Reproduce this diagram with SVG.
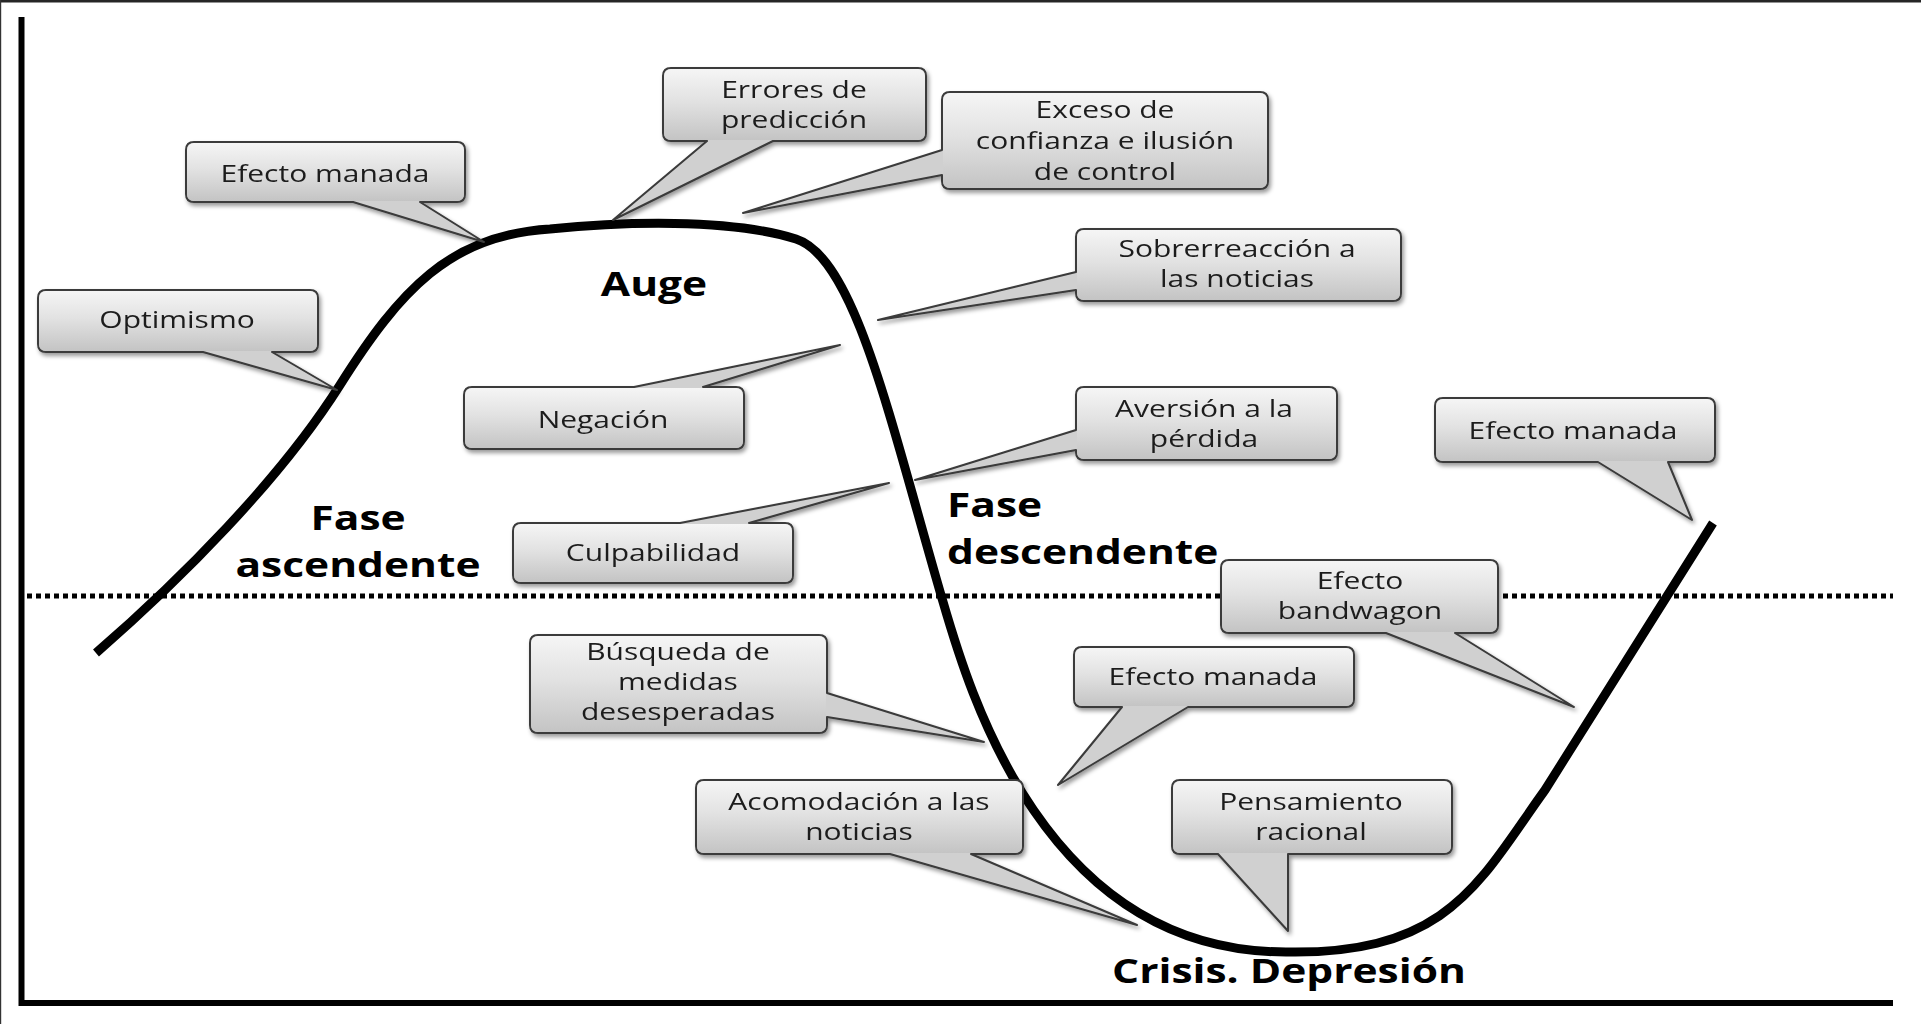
<svg xmlns="http://www.w3.org/2000/svg" width="1921" height="1024" viewBox="0 0 1921 1024">
  <defs>
    <linearGradient id="boxg" x1="0" y1="0" x2="0" y2="1">
      <stop offset="0" stop-color="#f5f5f5"/>
      <stop offset="0.45" stop-color="#e2e2e2"/>
      <stop offset="1" stop-color="#c4c4c4"/>
    </linearGradient>
    <filter id="shadow" x="-10%" y="-10%" width="130%" height="140%">
      <feDropShadow dx="2" dy="3" stdDeviation="2" flood-color="#000" flood-opacity="0.4"/>
    </filter>
  </defs>
  <style>
    .outline { fill: #d0d0d0; stroke: #3a3a3a; stroke-width: 2; stroke-linejoin: round; }
    .face { fill: url(#boxg); }
    .lbl { font-family: "Open Sans", "Liberation Sans", sans-serif; font-size: 24px; fill: #1e1e1e; text-anchor: middle; }
    .big { font-family: "Open Sans", "Liberation Sans", sans-serif; font-size: 34px; font-weight: bold; fill: #000; }
    .axis { fill: none; stroke: #000; stroke-width: 6; }
    .dots { fill: none; stroke: #000; stroke-width: 5; stroke-dasharray: 5 4; }
    .curve { fill: none; stroke: #000; stroke-width: 9; stroke-linecap: butt; stroke-linejoin: round; }
  </style>
  <rect x="0" y="0" width="1921" height="1024" fill="#fff"/>
  <g id="frame">
    <rect x="0" y="0" width="1921" height="2.5" fill="#262626"/>
    <rect x="0" y="0" width="1.2" height="1024" fill="#333"/>
  </g>
  <g id="axes">
    <path class="axis" d="M21.5,17 V1003 H1893"/>
    <path class="dots" d="M27,596 H1893"/>
  </g>
  <g id="connectors">
    <path id="cycle-curve" class="curve" d="M96,653 C180,580 280,480 340,385 C400,290 450,235 550,229 C620,222 730,218 796,239 C855,258 890,420 941,595 C966,681 1040,952 1286,952 C1450,955 1480,880 1545,790 L1713,523"/>
  </g>
  <g id="labels">
    <text class="big" transform="translate(358,530) scale(1.25 1)" text-anchor="middle">Fase</text>
    <text class="big" transform="translate(358,577) scale(1.25 1)" text-anchor="middle">ascendente</text>
    <text class="big" transform="translate(654,296) scale(1.25 1)" text-anchor="middle">Auge</text>
    <text class="big" transform="translate(947,517) scale(1.25 1)">Fase</text>
    <text class="big" transform="translate(947,564) scale(1.25 1)">descendente</text>
    <text class="big" transform="translate(1289,983) scale(1.25 1)" text-anchor="middle">Crisis. Depresión</text>
  </g>
  <g filter="url(#shadow)">
    <g id="optimismo">
      <path class="outline" d="M46,290 H310 Q318,290 318,298 V344 Q318,352 310,352 H272 L337,390 L203,352 H46 Q38,352 38,344 V298 Q38,290 46,290 Z"/>
      <rect class="face" x="39" y="291" width="278" height="60" rx="7"/>
      <text class="lbl" transform="translate(177,328) scale(1.25 1)">Optimismo</text>
    </g>
    <g id="efecto-manada-1">
      <path class="outline" d="M194,142 H457 Q465,142 465,150 V194 Q465,202 457,202 H420 L484,242 L353,202 H194 Q186,202 186,194 V150 Q186,142 194,142 Z"/>
      <rect class="face" x="187" y="143" width="277" height="58" rx="7"/>
      <text class="lbl" transform="translate(325,182) scale(1.25 1)">Efecto manada</text>
    </g>
    <g id="errores">
      <path class="outline" d="M671,68 H918 Q926,68 926,76 V133 Q926,141 918,141 H773 L613,220 L707,141 H671 Q663,141 663,133 V76 Q663,68 671,68 Z"/>
      <rect class="face" x="664" y="69" width="261" height="71" rx="7"/>
      <text class="lbl" transform="translate(794,98) scale(1.25 1)"><tspan x="0" y="0">Errores de</tspan><tspan x="0" y="30">predicción</tspan></text>
    </g>
    <g id="exceso">
      <path class="outline" d="M950,92 H1260 Q1268,92 1268,100 V181 Q1268,189 1260,189 H950 Q942,189 942,181 V175 L743,213 L942,150 V100 Q942,92 950,92 Z"/>
      <rect class="face" x="943" y="93" width="324" height="95" rx="7"/>
      <text class="lbl" transform="translate(1105,118) scale(1.25 1)"><tspan x="0" y="0">Exceso de</tspan><tspan x="0" y="31">confianza e ilusión</tspan><tspan x="0" y="62">de control</tspan></text>
    </g>
    <g id="sobrerreaccion">
      <path class="outline" d="M1084,229 H1393 Q1401,229 1401,237 V293 Q1401,301 1393,301 H1084 Q1076,301 1076,293 V290 L878,320 L1076,272 V237 Q1076,229 1084,229 Z"/>
      <rect class="face" x="1077" y="230" width="323" height="70" rx="7"/>
      <text class="lbl" transform="translate(1237,257) scale(1.25 1)"><tspan x="0" y="0">Sobrerreacción a</tspan><tspan x="0" y="30">las noticias</tspan></text>
    </g>
    <g id="negacion">
      <path class="outline" d="M472,387 H634 L840,345 L703,387 H736 Q744,387 744,395 V441 Q744,449 736,449 H472 Q464,449 464,441 V395 Q464,387 472,387 Z"/>
      <rect class="face" x="465" y="388" width="278" height="60" rx="7"/>
      <text class="lbl" transform="translate(603,428) scale(1.25 1)">Negación</text>
    </g>
    <g id="aversion">
      <path class="outline" d="M1084,387 H1329 Q1337,387 1337,395 V452 Q1337,460 1329,460 H1084 Q1076,460 1076,452 V450 L915,480 L1076,430 V395 Q1076,387 1084,387 Z"/>
      <rect class="face" x="1077" y="388" width="259" height="71" rx="7"/>
      <text class="lbl" transform="translate(1204,417) scale(1.25 1)"><tspan x="0" y="0">Aversión a la</tspan><tspan x="0" y="30">pérdida</tspan></text>
    </g>
    <g id="culpabilidad">
      <path class="outline" d="M521,523 H680 L889,483 L749,523 H785 Q793,523 793,531 V575 Q793,583 785,583 H521 Q513,583 513,575 V531 Q513,523 521,523 Z"/>
      <rect class="face" x="514" y="524" width="278" height="58" rx="7"/>
      <text class="lbl" transform="translate(653,561) scale(1.25 1)">Culpabilidad</text>
    </g>
    <g id="efecto-manada-2">
      <path class="outline" d="M1443,398 H1707 Q1715,398 1715,406 V454 Q1715,462 1707,462 H1668 L1692,520 L1598,462 H1443 Q1435,462 1435,454 V406 Q1435,398 1443,398 Z"/>
      <rect class="face" x="1436" y="399" width="278" height="62" rx="7"/>
      <text class="lbl" transform="translate(1573,439) scale(1.25 1)">Efecto manada</text>
    </g>
    <g id="bandwagon">
      <path class="outline" d="M1229,560 H1490 Q1498,560 1498,568 V625 Q1498,633 1490,633 H1455 L1574,707 L1386,633 H1229 Q1221,633 1221,625 V568 Q1221,560 1229,560 Z"/>
      <rect class="face" x="1222" y="561" width="275" height="71" rx="7"/>
      <text class="lbl" transform="translate(1360,589) scale(1.25 1)"><tspan x="0" y="0">Efecto</tspan><tspan x="0" y="30">bandwagon</tspan></text>
    </g>
    <g id="efecto-manada-3">
      <path class="outline" d="M1082,647 H1346 Q1354,647 1354,655 V699 Q1354,707 1346,707 H1188 L1058,785 L1122,707 H1082 Q1074,707 1074,699 V655 Q1074,647 1082,647 Z"/>
      <rect class="face" x="1075" y="648" width="278" height="58" rx="7"/>
      <text class="lbl" transform="translate(1213,685) scale(1.25 1)">Efecto manada</text>
    </g>
    <g id="busqueda">
      <path class="outline" d="M538,635 H819 Q827,635 827,643 V693 L984,742 L827,717 V725 Q827,733 819,733 H538 Q530,733 530,725 V643 Q530,635 538,635 Z"/>
      <rect class="face" x="531" y="636" width="295" height="96" rx="7"/>
      <text class="lbl" transform="translate(678,660) scale(1.25 1)"><tspan x="0" y="0">Búsqueda de</tspan><tspan x="0" y="30">medidas</tspan><tspan x="0" y="60">desesperadas</tspan></text>
    </g>
    <g id="acomodacion">
      <path class="outline" d="M704,780 H1015 Q1023,780 1023,788 V846 Q1023,854 1015,854 H971 L1137,925 L890,854 H704 Q696,854 696,846 V788 Q696,780 704,780 Z"/>
      <rect class="face" x="697" y="781" width="325" height="72" rx="7"/>
      <text class="lbl" transform="translate(859,810) scale(1.25 1)"><tspan x="0" y="0">Acomodación a las</tspan><tspan x="0" y="30">noticias</tspan></text>
    </g>
    <g id="pensamiento">
      <path class="outline" d="M1180,780 H1444 Q1452,780 1452,788 V846 Q1452,854 1444,854 H1288 L1288,931 L1218,854 H1180 Q1172,854 1172,846 V788 Q1172,780 1180,780 Z"/>
      <rect class="face" x="1173" y="781" width="278" height="72" rx="7"/>
      <text class="lbl" transform="translate(1311,810) scale(1.25 1)"><tspan x="0" y="0">Pensamiento</tspan><tspan x="0" y="30">racional</tspan></text>
    </g>
  </g>
</svg>
